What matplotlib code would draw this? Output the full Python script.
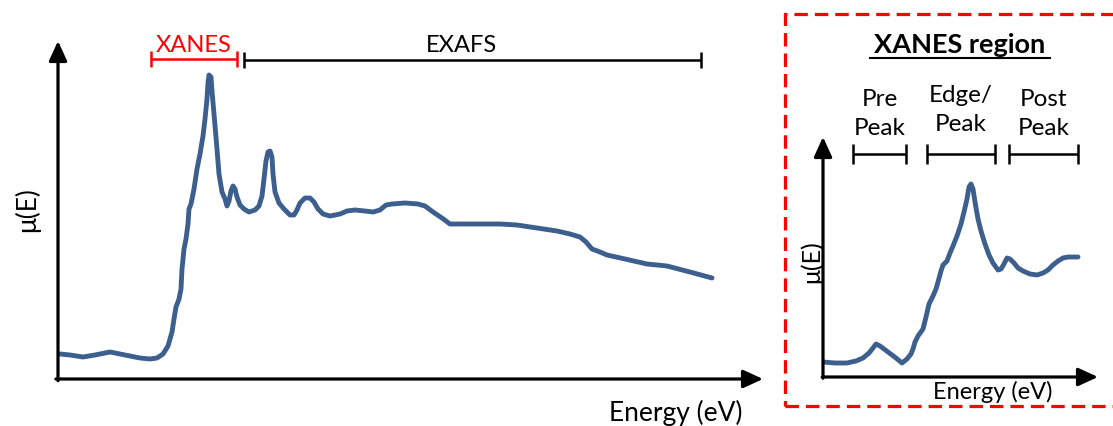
import matplotlib
matplotlib.use("Agg")
import matplotlib.pyplot as plt
from matplotlib.patches import Rectangle
import numpy as np

plt.rcParams['font.family'] = ['Lato', 'DejaVu Sans']

W, H = 1113, 427

# full spectrum (energy, absorption) in arbitrary units
full_energy = [2, 12, 25, 37, 52, 67, 82, 92, 99, 105, 110, 114, 116, 118, 121, 123,
               124, 126, 128, 130, 131, 133, 136, 139, 142, 145, 147, 149, 150, 151,
               153, 154, 156, 159, 161, 164, 167, 169, 171, 173, 175, 177, 179, 182,
               186, 191, 197, 201, 204, 206, 208, 210, 212, 214, 215, 217, 221, 226,
               232, 236, 239, 242, 247, 252, 256, 260, 265, 272, 282, 289, 297, 307,
               315, 322, 328, 334, 347, 360, 367, 375, 384, 392, 412, 442, 459, 479,
               499, 512, 522, 528, 534, 542, 549, 567, 589, 609, 632, 654]
full_mu = [25, 24, 22, 24, 27, 24, 21, 20, 21, 25, 33, 47, 60, 72, 80, 90,
           110, 130, 140, 155, 170, 175, 190, 210, 225, 243, 260, 280, 296, 304,
           302, 288, 265, 230, 205, 187, 180, 173, 178, 188, 193, 190, 182, 174,
           170, 167, 169, 173, 183, 200, 218, 227, 228, 222, 205, 187, 176, 170,
           164, 164, 169, 176, 181, 181, 177, 170, 165, 163, 165, 168, 169, 168,
           167, 169, 174, 175, 176, 175, 173, 167, 161, 155, 155, 155, 154, 151,
           148, 145, 142, 137, 130, 127, 124, 120, 115, 113, 107, 101]

# XANES close-up
xanes_energy = [0, 12, 24, 33, 40, 46, 50, 53, 57, 65, 73, 79, 84, 88, 90, 92,
                95, 100, 103, 106, 110, 113, 115, 118, 120, 124, 127, 130, 134, 138,
                141, 144, 146, 148, 150, 152, 155, 158, 162, 166, 170, 175, 178, 181,
                184, 187, 191, 195, 200, 207, 214, 220, 225, 230, 235, 240, 245, 255]
xanes_mu = [15, 14, 14, 16, 19, 24, 29, 33, 31, 25, 19, 14, 18, 23, 28, 35,
            41, 48, 60, 73, 81, 88, 95, 106, 112, 116, 124, 131, 141, 153,
            165, 178, 190, 193, 188, 175, 158, 146, 133, 122, 114, 107, 108, 113,
            119, 118, 114, 109, 106, 103, 102, 104, 107, 112, 116, 119, 120, 120]

# region brackets (start, end)
xanes_span = (93, 179)
exafs_span = (186, 643)
sub_regions = ["Pre\nPeak", "Edge/\nPeak", "Post\nPeak"]
sub_spans = [(30, 83), (104, 172), (186, 255)]
sub_label_y = [114, 110, 114]

line_col = '#3c5f8e'
fig = plt.figure(figsize=(W / 100, H / 100), dpi=100)


def fx(px):
    return px / W


def fy(py):
    return 1 - py / H


def make_axes(x0, y0, x1, y1):
    ax = fig.add_axes([fx(x0), fy(y0), (x1 - x0) / W, (y0 - y1) / H])
    ax.set_xlim(0, x1 - x0)
    ax.set_ylim(0, y0 - y1)
    ax.axis('off')
    arrow = dict(arrowstyle='-|>,head_length=1.2,head_width=0.55', lw=2.3, color='black',
                 shrinkA=0, shrinkB=0)
    ax.annotate('', xy=(1, 0), xytext=(-0.003, 0), xycoords='axes fraction', arrowprops=arrow)
    ax.annotate('', xy=(0, 1), xytext=(0, -0.005), xycoords='axes fraction', arrowprops=arrow)
    return ax


def bracket(ax, a, b, y, h, col):
    ax.plot([a, b], [y, y], color=col, lw=1.8, clip_on=False, solid_capstyle='butt')
    for x in (a, b):
        ax.plot([x, x], [y - h, y + h], color=col, lw=1.8, clip_on=False, solid_capstyle='butt')


# left: full spectrum
ax1 = make_axes(58, 380, 763, 42)
ax1.plot(full_energy, full_mu, color=line_col, lw=3.5, solid_capstyle='round',
         solid_joinstyle='round')
bracket(ax1, xanes_span[0], xanes_span[1], 320, 8, 'red')
bracket(ax1, exafs_span[0], exafs_span[1], 319, 8, 'black')
fig.text(fx(194), fy(45), 'XANES', color='red', fontsize=17, ha='center', va='center')
fig.text(fx(462), fy(45), 'EXAFS', color='black', fontsize=17, ha='center', va='center')
fig.text(fx(676), fy(413), 'Energy (eV)', fontsize=19, ha='center', va='center')
fig.text(fx(27), fy(210), 'μ(E)', fontsize=19, rotation=90, ha='center', va='center')

# right: XANES close-up inside dashed box
fig.patches.append(Rectangle((fx(785), fy(407)), (1125 - 785) / W, (407 - 15) / H,
                             transform=fig.transFigure, fill=False, edgecolor='red',
                             lw=2.3, linestyle=(0, (4.2, 2.2))))
ax2 = make_axes(823, 378, 1098, 138)
ax2.plot(xanes_energy, xanes_mu, color=line_col, lw=3.5, solid_capstyle='round',
         solid_joinstyle='round')
for lab, (a, b), ly in zip(sub_regions, sub_spans, sub_label_y):
    bracket(ax2, a, b, 223, 10, 'black')
    fig.text(fx(823 + (a + b) / 2), fy(ly), lab, fontsize=17.5, ha='center', va='center',
             linespacing=1.45)
fig.text(fx(960), fy(45), 'XANES region', fontsize=19.5, fontweight='bold', ha='center',
         va='center')
fig.add_artist(plt.Line2D([fx(870), fx(1050)], [fy(59), fy(59)], color='black', lw=1.5,
                          transform=fig.transFigure))
fig.text(fx(993), fy(392), 'Energy (eV)', fontsize=17, ha='center', va='center')
fig.text(fx(811), fy(262), 'μ(E)', fontsize=18, rotation=90, ha='center', va='center')

fig.savefig('out.png', dpi=100)
